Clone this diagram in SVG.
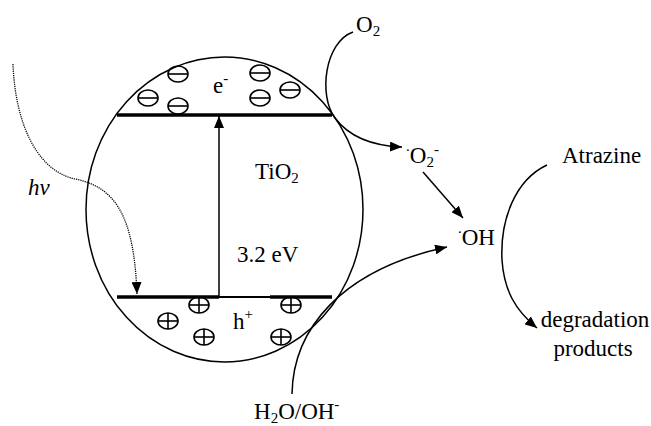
<svg xmlns="http://www.w3.org/2000/svg" xmlns:xlink="http://www.w3.org/1999/xlink" width="651" height="426" viewBox="0 0 651 426">
<style>
.ln{fill:none;stroke:#000;stroke-width:1.5}
.dot{fill:none;stroke:#000;stroke-width:1.3;stroke-dasharray:1.2 1}
.bar{stroke:#000;stroke-width:3.5}
.thin{stroke:#000;stroke-width:2}
.sym{fill:none;stroke:#000;stroke-width:1.6}
text{font-family:'Liberation Serif','DejaVu Serif',serif;font-size:23px;fill:#000}
.s{font-size:15px}
</style>
<defs>
<marker id="ah" viewBox="0 0 12 10" refX="12" refY="5" markerWidth="12" markerHeight="10" orient="auto" markerUnits="userSpaceOnUse"><path d="M0,0 L12,5 L0,10 z" fill="#000"/></marker>
<g id="minus" class="sym"><ellipse cx="0" cy="0" rx="10" ry="8"/><line x1="-10" y1="0" x2="10" y2="0"/></g>
<g id="plus" class="sym"><ellipse cx="0" cy="0" rx="10" ry="8"/><line x1="-10" y1="0" x2="10" y2="0"/><line x1="0" y1="-8" x2="0" y2="8"/></g>
</defs>
<rect width="651" height="426" fill="#fff"/>

<g id="particle">
<ellipse class="ln" cx="224.5" cy="209.5" rx="138.5" ry="152.5"/>
</g>
<g id="conduction-band">
<line class="bar" x1="117" y1="115" x2="332" y2="115"/>
</g>
<g id="valence-band">
<line class="bar" x1="117" y1="297" x2="219" y2="297"/>
<line class="thin" x1="219" y1="297" x2="271" y2="297"/>
<line class="bar" x1="270" y1="297" x2="332" y2="297"/>
</g>
<g id="electrons">
<use xlink:href="#minus" x="178" y="74"/>
<use xlink:href="#minus" x="148" y="98"/>
<use xlink:href="#minus" x="178" y="106"/>
<use xlink:href="#minus" x="260" y="73"/>
<use xlink:href="#minus" x="260" y="98"/>
<use xlink:href="#minus" x="290" y="90"/>
<text font-family="Liberation Serif, serif" x="213" y="93">e<tspan class="s" dy="-10">-</tspan></text>
</g>
<g id="holes">
<use xlink:href="#plus" x="199" y="305"/>
<use xlink:href="#plus" x="168" y="321"/>
<use xlink:href="#plus" x="204" y="337"/>
<use xlink:href="#plus" x="291" y="305"/>
<use xlink:href="#plus" x="281" y="337"/>
<text font-family="Liberation Serif, serif" x="233" y="329">h<tspan class="s" dy="-10">+</tspan></text>
</g>
<g id="tio2"><text font-family="Liberation Serif, serif" x="255" y="179">TiO<tspan class="s" dy="4">2</tspan></text></g>
<g id="bandgap"><text font-family="Liberation Serif, serif" x="237" y="262">3.2 eV</text></g>
<g id="hv"><text font-family="Liberation Serif, serif" x="28" y="195" font-style="italic">hv</text></g>
<g id="o2"><text font-family="Liberation Serif, serif" x="356" y="32">O<tspan class="s" dy="4">2</tspan></text></g>
<g id="superoxide"><text font-family="Liberation Serif, serif" x="406" y="163"><tspan class="s" dy="-12">.</tspan><tspan dy="12">O</tspan><tspan class="s" dy="4">2</tspan><tspan class="s" dy="-13">-</tspan></text></g>
<g id="oh"><text font-family="Liberation Serif, serif" x="458" y="245"><tspan class="s" dy="-12">.</tspan><tspan dy="12">OH</tspan></text></g>
<g id="atrazine"><text font-family="Liberation Serif, serif" x="562" y="163">Atrazine</text></g>
<g id="products"><text font-family="Liberation Serif, serif" x="595" y="327" text-anchor="middle">degradation</text><text font-family="Liberation Serif, serif" x="593" y="356" text-anchor="middle">products</text></g>
<g id="h2o"><text font-family="Liberation Serif, serif" x="254" y="419">H<tspan class="s" dy="4">2</tspan><tspan dy="-4">O/OH</tspan><tspan class="s" dy="-10">-</tspan></text></g>

<g id="connectors">
<line class="ln" x1="219" y1="297" x2="219" y2="116" marker-end="url(#ah)"/>
<path class="dot" d="M13,64 C15,120 35,170 75,179 C115,187 134,215 137,294" marker-end="url(#ah)"/>
<path class="ln" d="M353,32 C325,42 318,95 335,118 C350,138 375,146 402,147" marker-end="url(#ah)"/>
<line class="ln" x1="423" y1="172" x2="463" y2="218" marker-end="url(#ah)"/>
<path class="ln" d="M292,394 C293,330 340,270 447,247" marker-end="url(#ah)"/>
<path class="ln" d="M547,165 C515,180 500,220 502,260 C504,290 515,310 537,328" marker-end="url(#ah)"/>
</g>
</svg>
